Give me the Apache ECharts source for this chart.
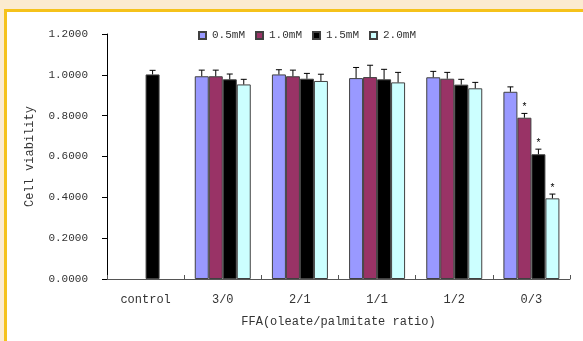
<!DOCTYPE html>
<html>
<head>
<meta charset="utf-8">
<script src="https://cdn.jsdelivr.net/npm/echarts@6/dist/echarts.min.js"></script>
<style>
html,body{margin:0;padding:0;background:#fff;}
#chart{width:583px;height:341px;}
</style>
</head>
<body>
<div id="chart"></div>
<script>
var categories = ['control', '3/0', '2/1', '1/1', '1/2', '0/3'];
var seriesNames = ['0.5mM', '1.0mM', '1.5mM', '2.0mM'];
var colors = ['#9999FF', '#993366', '#000000', '#CCFFFF'];
var v05 = ['-', 0.993, 1.002, 0.984, 0.988, 0.917];
var v10 = ['-', 0.993, 0.993, 0.989, 0.981, 0.790];
var v15 = [1.002, 0.978, 0.981, 0.978, 0.952, 0.611];
var v20 = ['-', 0.953, 0.970, 0.963, 0.934, 0.395];
var e05 = [0, 0.030, 0.023, 0.052, 0.029, 0.024];
var e10 = [0, 0.030, 0.030, 0.058, 0.031, 0.021];
var e15 = [0.020, 0.026, 0.026, 0.049, 0.026, 0.025];
var e20 = [0, 0.025, 0.033, 0.049, 0.029, 0.021];
var sig05 = [0, 0, 0, 0, 0, 0];
var sig10 = [0, 0, 0, 0, 0, 1];
var sig15 = [0, 0, 0, 0, 0, 1];
var sig20 = [0, 0, 0, 0, 0, 1];
var yTicks = [0, 0.2, 0.4, 0.6, 0.8, 1.0, 1.2];

var values = [v05, v10, v15, v20];
var errs = [e05, e10, e15, e20];
var sigs = [sig05, sig10, sig15, sig20];
var BAR_W = 14;
var FONT = 'Liberation Mono';

var chart = echarts.init(document.getElementById('chart'), null, {renderer: 'canvas'});

var series = [];
seriesNames.forEach(function (name, i) {
  series.push({
    name: name,
    type: 'bar',
    barWidth: BAR_W,
    barGap: '0%',
    data: values[i],
    itemStyle: {color: colors[i], borderColor: '#404040', borderWidth: 1},
    emphasis: {disabled: true},
    z: 2
  });
});
seriesNames.forEach(function (name, i) {
  var data = [];
  values[i].forEach(function (v, k) {
    if (v !== '-') data.push([k, v, errs[i][k], sigs[i][k]]);
  });
  series.push({
    type: 'custom',
    data: data,
    z: 3,
    silent: true,
    renderItem: function (params, api) {
      var k = api.value(0), v = api.value(1), e = api.value(2), s = api.value(3);
      var base = api.coord([k, v]);
      var top = api.coord([k, v + e]);
      var x = base[0] + (i - 1.5) * BAR_W;
      var children = [
        {type: 'line', shape: {x1: x, y1: base[1], x2: x, y2: top[1]}, style: {stroke: '#000', lineWidth: 1}},
        {type: 'line', shape: {x1: x - 3, y1: top[1], x2: x + 3, y2: top[1]}, style: {stroke: '#000', lineWidth: 1}}
      ];
      if (s) {
        children.push({type: 'text', style: {text: '*', x: x, y: top[1] - 1, align: 'center', verticalAlign: 'bottom', fill: '#000', font: '10px ' + FONT}});
      }
      return {type: 'group', children: children};
    }
  });
});

var option = {
  animation: false,
  backgroundColor: '#ffffff',
  graphic: [
    {type: 'rect', z: -100, silent: true, shape: {x: 0, y: 0, width: 583, height: 9}, style: {fill: '#FBEBD0'}},
    {type: 'rect', z: -100, silent: true, shape: {x: 0, y: 0, width: 4, height: 341}, style: {fill: '#FBEBD0'}},
    {type: 'rect', z: -100, silent: true, shape: {x: 4, y: 9, width: 579, height: 3}, style: {fill: '#F5C21B'}},
    {type: 'rect', z: -100, silent: true, shape: {x: 4, y: 9, width: 3, height: 332}, style: {fill: '#F5C21B'}}
  ],
  legend: {
    data: seriesNames,
    left: 198,
    top: 30,
    padding: 0,
    itemWidth: 7,
    itemHeight: 7,
    itemGap: 10,
    icon: 'rect',
    textStyle: {fontFamily: FONT, fontSize: 11, color: '#333', padding: [0, 0, 0, 1]}
  },
  grid: {left: 107, right: 13, top: 34, bottom: 62, containLabel: false},
  xAxis: {
    type: 'category',
    data: categories,
    axisLine: {lineStyle: {color: '#555', width: 1}},
    axisTick: {show: true, inside: true, length: 4, interval: 0, lineStyle: {color: '#555'}},
    axisLabel: {fontFamily: FONT, fontSize: 12, color: '#333', margin: 15, interval: 0},
    name: 'FFA(oleate/palmitate ratio)',
    nameLocation: 'middle',
    nameGap: 37,
    nameTextStyle: {fontFamily: FONT, fontSize: 12, color: '#333'}
  },
  yAxis: {
    type: 'value',
    min: 0,
    max: 1.2,
    interval: 0.2,
    splitLine: {show: false},
    axisLine: {show: true, lineStyle: {color: '#000', width: 1}},
    axisTick: {show: true, inside: false, length: 5, lineStyle: {color: '#000'}},
    axisLabel: {
      fontFamily: FONT, fontSize: 11, color: '#333', margin: 19,
      formatter: function (v) { return v.toFixed(4); }
    },
    name: 'Cell viability',
    nameLocation: 'middle',
    nameGap: 71,
    nameTextStyle: {fontFamily: FONT, fontSize: 12, color: '#333'}
  },
  series: series
};
chart.setOption(option);
</script>
</body>
</html>
